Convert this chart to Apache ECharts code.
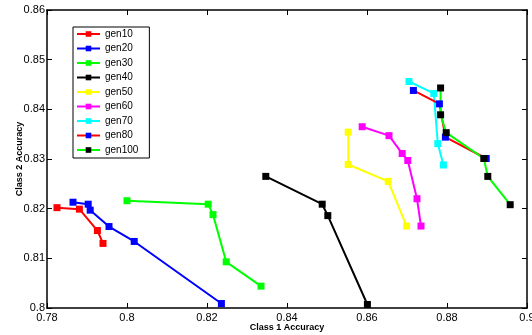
<!DOCTYPE html>
<html>
<head>
<meta charset="utf-8">
<script src="https://cdn.jsdelivr.net/npm/echarts@6/dist/echarts.min.js"></script>
<style>
  html, body { margin: 0; padding: 0; background: #fff; }
  #chart { width: 532px; height: 335px; }
</style>
</head>
<body>
<div id="chart"></div>
<script>
// [class 1 accuracy, class 2 accuracy]
const gen10 = [[0.7825, 0.8202], [0.7881, 0.8199], [0.7926, 0.8156], [0.7940, 0.8130]];
const gen20 = [[0.7865, 0.8213], [0.7903, 0.8209], [0.7908, 0.8197], [0.7955, 0.8164], [0.8018, 0.8134], [0.8236, 0.8009]];
const gen30 = [[0.8000, 0.8216], [0.8203, 0.8209], [0.8215, 0.8188], [0.8248, 0.8093], [0.8335, 0.8044]];
const gen40 = [[0.8347, 0.8265], [0.8488, 0.8209], [0.8502, 0.8186], [0.8601, 0.8007]];
const gen50 = [[0.8553, 0.8354], [0.8553, 0.8289], [0.8653, 0.8255], [0.8699, 0.8165]];
const gen60 = [[0.8588, 0.8365], [0.8655, 0.8347], [0.8688, 0.8311], [0.8702, 0.8297], [0.8725, 0.8220], [0.8735, 0.8165]];
const gen70 = [[0.8705, 0.8456], [0.8767, 0.8432], [0.8777, 0.8331], [0.8791, 0.8288]];
const gen80 = [[0.8716, 0.8438], [0.8781, 0.8411], [0.8796, 0.8344], [0.8898, 0.8301]];
const gen100 = [[0.8784, 0.8443], [0.8784, 0.8389], [0.8798, 0.8353], [0.8892, 0.8301], [0.8902, 0.8265], [0.8958, 0.8208]];

const seriesNames = ['gen10', 'gen20', 'gen30', 'gen40', 'gen50', 'gen60', 'gen70', 'gen80', 'gen100'];
const seriesData = [gen10, gen20, gen30, gen40, gen50, gen60, gen70, gen80, gen100];
const lineColors = ['#ff0000', '#0000ff', '#00ff00', '#000000', '#ffff00', '#ff00ff', '#00ffff', '#ff0000', '#00ff00'];
const markColors = ['#ff0000', '#0000ff', '#00ff00', '#000000', '#ffff00', '#ff00ff', '#00ffff', '#0000ff', '#000000'];

const font = "'Liberation Sans', Arial, Helvetica, sans-serif";
const fmt = v => parseFloat(v.toFixed(2)).toString();

const chart = echarts.init(document.getElementById('chart'), null, { renderer: 'canvas' });

const baseAxis = {
    axisLine: { show: true, onZero: false, lineStyle: { color: '#000', width: 1.5 } },
    axisTick: { show: true, inside: true, length: 5, lineStyle: { color: '#000', width: 1 } },
    splitLine: { show: false }
};

chart.setOption({
    backgroundColor: '#ffffff',
    animation: false,
    grid: { left: 47, top: 10, right: 5, bottom: 27, containLabel: false, outerBoundsMode: 'none' },
    legend: {
        left: 73,
        top: 27,
        orient: 'vertical',
        data: seriesNames,
        itemWidth: 23,
        itemHeight: 7,
        itemGap: 4.5,
        padding: [2, 11, 3, 3],
        backgroundColor: '#ffffff',
        borderColor: '#000000',
        borderWidth: 1,
        borderRadius: 0,
        textStyle: { fontFamily: font, fontSize: 10, color: '#000' }
    },
    xAxis: [{
        ...baseAxis,
        type: 'value',
        min: 0.78,
        max: 0.9,
        interval: 0.02,
        name: 'Class 1 Accuracy',
        nameLocation: 'middle',
        nameGap: 15,
        nameMoveOverlap: false,
        nameTextStyle: { fontFamily: font, fontSize: 9, fontWeight: 'bold', color: '#000' },
        axisLabel: { fontFamily: font, fontSize: 11, color: '#000', margin: 4, formatter: fmt }
    }, {
        ...baseAxis,
        type: 'value',
        position: 'top',
        min: 0.78,
        max: 0.9,
        interval: 0.02,
        axisLabel: { show: false }
    }],
    yAxis: [{
        ...baseAxis,
        type: 'value',
        min: 0.8,
        max: 0.86,
        interval: 0.01,
        name: 'Class 2 Accuracy',
        nameLocation: 'middle',
        nameGap: 23,
        nameMoveOverlap: false,
        nameTextStyle: { fontFamily: font, fontSize: 9, fontWeight: 'bold', color: '#000' },
        axisLabel: { fontFamily: font, fontSize: 11, color: '#000', margin: 2, formatter: fmt }
    }, {
        ...baseAxis,
        type: 'value',
        position: 'right',
        min: 0.8,
        max: 0.86,
        interval: 0.01,
        axisLabel: { show: false }
    }],
    series: seriesData.map((d, i) => ({
        name: seriesNames[i],
        type: 'line',
        data: d,
        symbol: 'rect',
        symbolSize: 7,
        showAllSymbol: true,
        lineStyle: { color: lineColors[i], width: 2 },
        itemStyle: { color: markColors[i] },
        emphasis: { disabled: true }
    }))
});
</script>
</body>
</html>
